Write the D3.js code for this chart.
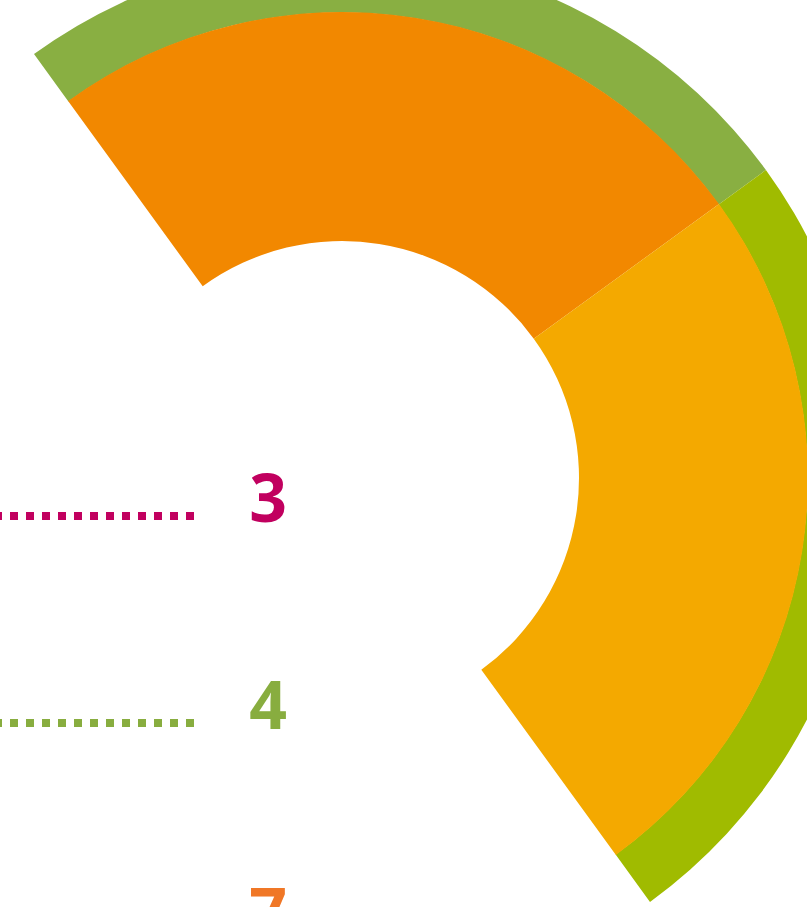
<!DOCTYPE html>
<html>
<head>
<meta charset="utf-8">
<script src="https://cdn.jsdelivr.net/npm/d3@7"></script>
<style>
  html, body { margin: 0; padding: 0; background: #fff; overflow: hidden; }
  svg { display: block; }
</style>
</head>
<body>
<div id="canvas"></div>
<script>
// segments of the ring (only two quarters are shown)
const segments = ["a", "b"];
const segmentValues = [1, 1];
const innerColors = ["#F28800", "#F4A900"];
const outerColors = ["#89AF42", "#A0BB00"];

// legend numbers on the left
const legendLabels = ["3", "4", "7"];
const legendColors = ["#C1005F", "#88AD3F", "#F07726"];

const width = 807;
const height = 907;
const cx = 342, cy = 478;
const rInner = 237, rMid = 466, rOuter = 524;

const svg = d3.select("#canvas").append("svg")
  .attr("width", width)
  .attr("height", height);

const pie = d3.pie()
  .sort(null)
  .startAngle(-0.2 * Math.PI)
  .endAngle(0.8 * Math.PI);

const arcs = pie(segmentValues);

const g = svg.append("g").attr("transform", `translate(${cx},${cy})`);

const outerArc = d3.arc().innerRadius(rMid - 0.5).outerRadius(rOuter);
const innerArc = d3.arc().innerRadius(rInner).outerRadius(rMid);

g.selectAll("path.outer").data(arcs).enter().append("path")
  .attr("class", "outer")
  .attr("d", outerArc)
  .style("fill", (d, i) => outerColors[i]);

g.selectAll("path.inner").data(arcs).enter().append("path")
  .attr("class", "inner")
  .attr("d", innerArc)
  .style("fill", (d, i) => innerColors[i]);

// legend rows
const y = d3.scalePoint()
  .domain(legendLabels)
  .range([516, 930]);

const rows = svg.selectAll("g.row").data(legendLabels).enter().append("g")
  .attr("class", "row")
  .attr("transform", d => `translate(0,${y(d)})`);

rows.append("line")
  .attr("x1", -22)
  .attr("x2", 194)
  .attr("y1", 0)
  .attr("y2", 0)
  .style("stroke", (d, i) => legendColors[i])
  .style("stroke-width", 8)
  .style("stroke-dasharray", "8,8");

rows.append("text")
  .attr("x", 268)
  .attr("y", 6)
  .attr("text-anchor", "middle")
  .style("font-family", "'Open Sans', sans-serif")
  .style("font-weight", 700)
  .style("font-size", "66px")
  .style("fill", (d, i) => legendColors[i])
  .text(d => d);
</script>
</body>
</html>
